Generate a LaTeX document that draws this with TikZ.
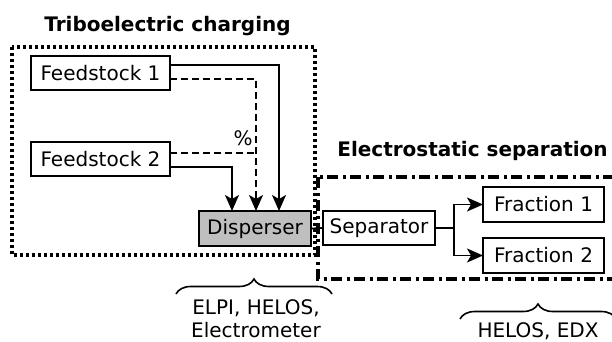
\documentclass[tikz,border=0pt]{standalone}
\usepackage{fontspec}
\setmainfont{DejaVu Sans}
\usetikzlibrary{arrows.meta,decorations.pathreplacing}
\tikzset{
  box/.style={draw, line width=1.7pt, minimum height=34pt, inner sep=0pt, outer sep=0pt},
  conn/.style={line width=1.7pt},
  arr/.style={conn, -{Stealth[length=16pt,width=14pt,inset=4pt]}},
  mixline/.style={conn, dash pattern=on 7pt off 4pt},
  title/.style={font=\fontsize{20}{23}\selectfont\bfseries, anchor=base, inner sep=0pt},
  lbl/.style={font=\fontsize{20}{23}\selectfont, inner sep=0pt},
  group1/.style={line width=3.2pt, dash pattern=on 3pt off 3pt},
  group2/.style={line width=3.2pt, dash pattern=on 11pt off 4.5pt on 3pt off 4.5pt},
  bracestyle/.style={line width=1.6pt, decorate, decoration={brace, amplitude=15pt}}
}
\begin{document}
\begin{tikzpicture}[x=1pt,y=-1pt, every node/.style={font=\fontsize{20}{23}\selectfont}]
\useasboundingbox (0,0) rectangle (612,342);
% groups
\draw[group1] (12,47) rectangle (315,255);
\draw[group2] (318,177) rectangle (640,279);
\node[title] (t1) at (167.5,32) {Triboelectric charging};
\node[title] (t2) at (472.5,156) {Electrostatic separation};
% boxes
\node[box, minimum width=139pt] (f1) at (100.5,73) {Feedstock 1};
\node[box, minimum width=139pt] (f2) at (100.5,159) {Feedstock 2};
\node[box, minimum width=112pt, fill=black!25, minimum height=35pt] (d) at (255,228.5) {Disperser};
\node[box, minimum width=112pt] (s) at (379,228) {Separator};
\node[box, minimum width=121pt, minimum height=35pt] (fr1) at (543.5,204.5) {Fraction 1};
\node[box, minimum width=121pt, minimum height=35pt] (fr2) at (543.5,255.5) {Fraction 2};
% connectors
\draw[arr] ([yshift=8pt]f1.east) -| ([xshift=24pt]d.north);
\draw[arr] ([yshift=-8pt]f2.east) -| ([xshift=-23pt]d.north);
\draw[mixline] ([yshift=-6pt]f1.east) -| ([xshift=1pt,yshift=20pt]d.north) coordinate (mixend);
\coordinate (mix) at (256,153);
\draw[mixline] ([yshift=6pt]f2.east) -- (mix);
\draw[arr] (mixend) -- ([xshift=1pt]d.north);
\node[lbl, anchor=base] (pct) at (243,145) {\%};
\draw[conn] (d.east) -- (s.west);
\coordinate (split) at (454,228);
\draw[conn] (s.east) -- (split);
\draw[arr] (split) |- (fr1.west);
\draw[arr] (split) |- (fr2.west);
% braces
\coordinate (b1l) at (176,294);
\coordinate (b1r) at (332,294);
\draw[bracestyle] (b1l) -- (b1r);
\node[lbl, align=center, anchor=north] (m1) at (256,299.5) {ELPI, HELOS,\\Electrometer};
\coordinate (b2l) at (460,319);
\coordinate (b2r) at (616,319);
\draw[bracestyle] (b2l) -- (b2r);
\node[lbl, anchor=base] (m2) at (538,337) {HELOS, EDX};
\end{tikzpicture}
\end{document}
